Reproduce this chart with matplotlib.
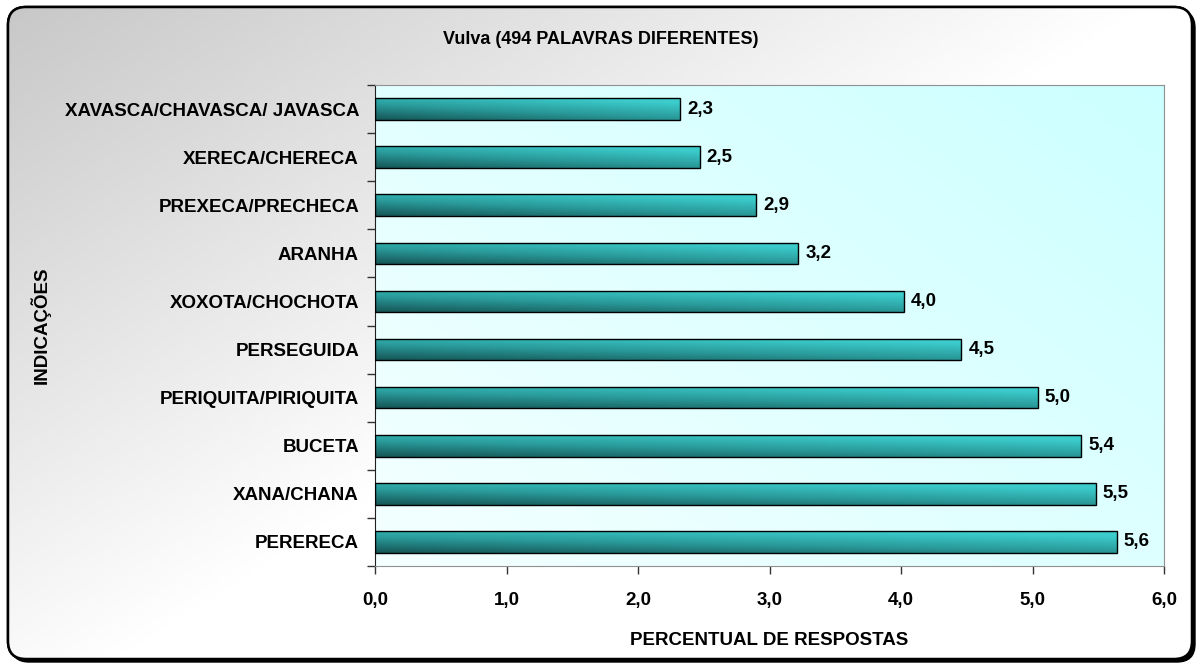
import numpy as np
import matplotlib
matplotlib.use('Agg')
import matplotlib.pyplot as plt
from matplotlib.patches import FancyBboxPatch
from matplotlib.colors import LinearSegmentedColormap

plt.rcParams['font.family'] = ['Liberation Sans', 'DejaVu Sans']
plt.rcParams['font.weight'] = 'bold'

title = 'Vulva (494 PALAVRAS DIFERENTES)'
categories = ['XAVASCA/CHAVASCA/ JAVASCA', 'XERECA/CHERECA', 'PREXECA/PRECHECA',
              'ARANHA', 'XOXOTA/CHOCHOTA', 'PERSEGUIDA', 'PERIQUITA/PIRIQUITA',
              'BUCETA', 'XANA/CHANA', 'PERERECA']
values = [2.32, 2.47, 2.90, 3.22, 4.02, 4.46, 5.04, 5.37, 5.48, 5.64]
xticks = [0, 1, 2, 3, 4, 5, 6]
xlabel = 'PERCENTUAL DE RESPOSTAS'
ylabel = 'INDICAÇÕES'

W, H = 1203, 666
fig = plt.figure(figsize=(W / 100, H / 100), dpi=100)
fig.patch.set_facecolor('white')

# fundo com cantos arredondados, sombra e degrade cinza
bg = fig.add_axes([0, 0, 1, 1])
bg.set_xlim(0, W)
bg.set_ylim(0, H)
bg.axis('off')
shadow = FancyBboxPatch((11, 4), 1184, 652, boxstyle='round,pad=0,rounding_size=18',
                        fc='black', ec='black', lw=1)
bg.add_patch(shadow)
panel = FancyBboxPatch((8, 7), 1184, 652, boxstyle='round,pad=0,rounding_size=18',
                       fc='white', ec='black', lw=1.8, zorder=2)
bg.add_patch(panel)
gx, gy = np.meshgrid(np.linspace(0, 1, 300), np.linspace(0, 1, 200))
grey = np.clip(0.78 + 0.23 * gx + 0.2 * gy, 0, 1)
im = bg.imshow(np.dstack([grey, grey, grey]), extent=[0, W, 0, H], origin='upper',
               aspect='auto', zorder=2.5)
im.set_clip_path(panel)
edge = FancyBboxPatch((8, 7), 1184, 652, boxstyle='round,pad=0,rounding_size=18',
                      fc='none', ec='black', lw=1.8, zorder=3)
bg.add_patch(edge)

fig.text(601 / W, 1 - 39 / H, title, ha='center', va='center', fontsize=13,
         fontweight='bold')

# area do grafico
ax = fig.add_axes([375 / W, 100 / H, 789 / W, 481 / H])
ax.set_facecolor('none')
px, py = np.meshgrid(np.linspace(0, 1, 200), np.linspace(0, 1, 200))
pt = np.clip(0.55 * px + 0.45 * py, 0, 1)
c0 = np.array([0.96, 1.0, 1.0])
c1 = np.array([0.80, 1.0, 1.0])
pgrad = c0 + (c1 - c0) * pt[..., None]
ax.imshow(pgrad, extent=[0, 1, 0, 1], transform=ax.transAxes, origin='lower',
          aspect='auto', zorder=0)

bar_cmap = LinearSegmentedColormap.from_list('teal', ['#165656', '#2a9a9a', '#3ccccc'])
n = len(categories)
ypos = np.arange(n)
bh = 0.45
bars = ax.barh(ypos, values, height=bh, color='none', edgecolor='black', lw=1, zorder=3)
bx, by = np.meshgrid(np.linspace(0, 1, 100), np.linspace(0, 1, 30))
for b, y, v in zip(bars, ypos, values):
    g = np.clip(0.7 * by + 0.45 * bx, 0, 1)
    bim = ax.imshow(g, cmap=bar_cmap, vmin=0, vmax=1, origin='lower',
                    extent=[0, v, y + bh / 2, y - bh / 2], aspect='auto', zorder=2)
    bim.set_clip_path(b)
    ax.annotate(f'{v:.1f}'.replace('.', ','), (v, y), xytext=(5, 0),
                textcoords='offset points', va='center', ha='left',
                fontsize=13.5, fontweight='bold')

ax.set_xlim(0, 6)
ax.set_ylim(n - 0.5, -0.5)
ax.set_xticks(xticks)
ax.set_xticklabels([f'{x:.1f}'.replace('.', ',') for x in xticks], fontsize=13.5,
                   fontweight='bold')
ax.tick_params(axis='x', direction='out', length=6, width=1, color='#333333', pad=13)
ax.set_yticks(np.arange(n + 1) - 0.5)
ax.set_yticklabels([])
ax.set_yticks(ypos, minor=True)
ax.set_yticklabels(categories, minor=True, fontsize=13.5, fontweight='bold')
ax.tick_params(axis='y', which='major', direction='out', length=6, width=1, color='#333333')
ax.tick_params(axis='y', which='minor', length=0, pad=11.5)

for s in ['top', 'right', 'bottom']:
    ax.spines[s].set_color('#909090')
ax.spines['left'].set_color('#202020')

ax.set_xlabel(xlabel, fontsize=13.5, fontweight='bold', labelpad=16)
fig.text(40 / W, 1 - 325 / H, ylabel, rotation=90, ha='center', va='center',
         fontsize=13.5, fontweight='bold')

fig.savefig('out.png', dpi=100)
